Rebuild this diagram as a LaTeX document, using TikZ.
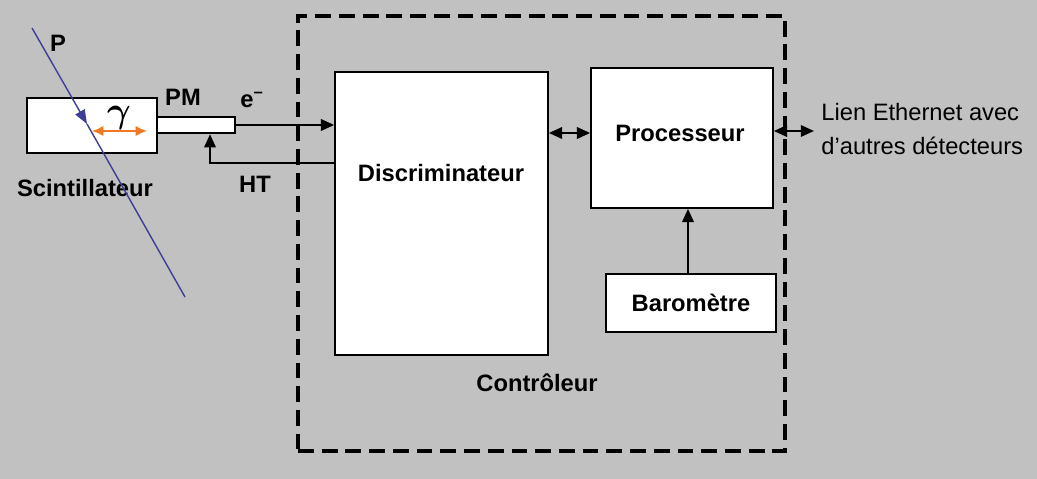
\documentclass[tikz,border=0pt]{standalone}
\usepackage{amsmath}
\usepackage{fontspec}
\setmainfont{Liberation Sans}
\usepackage{xcolor}
\definecolor{panelbg}{RGB}{193,193,193}
\definecolor{trackblue}{RGB}{62,62,150}
\definecolor{photonorange}{RGB}{240,120,35}
\usetikzlibrary{arrows.meta, positioning}

\begin{document}
\begin{tikzpicture}[
  x=0.02cm, y=-0.02cm,
  every node/.style={font=\fontsize{13.5}{16}\selectfont\bfseries, inner sep=0pt},
  box/.style={draw, fill=white, line width=1pt},
  link/.style={line width=1.2pt, -{Triangle[length=7.5pt,width=6.5pt]}},
  twoway/.style={line width=1.2pt, {Triangle[length=7.5pt,width=6.5pt]}-{Triangle[length=7.5pt,width=6.5pt]}},
]
\fill[panelbg] (0,0) rectangle (1037,479);
\useasboundingbox (0,0) rectangle (1037,479);

% controller frame
\node[draw, dash pattern=on 9pt off 4.5pt, line width=2pt,
  minimum width=9.74cm, minimum height=8.7cm] (ctrl) at (541.5,233.5) {};
\node (ctrltext) at (537,383) {Contrôleur};

% detector side
\node[box, minimum width=2.6cm, minimum height=1.1cm] (scint) at (92,125.5) {};
\node[box, line width=1.4pt, minimum width=1.56cm, minimum height=0.32cm] (pm) at (196,125) {};
\node (scinttext) at (85,188) {Scintillateur};
\node (pmtext) at (183,97) {PM};
\node (etext) at (252,100) {e\textsuperscript{–}};
\node (httext) at (255,184) {HT};
\node[font=\fontsize{20}{20}\selectfont] (gamma) at (119,118) {$\boldsymbol{\gamma}$};
\coordinate (gleft) at (92,131);
\coordinate (gright) at (147,131);
\draw[photonorange, line width=1.2pt, {Latex[length=6.5pt,width=6pt]}-{Latex[length=6.5pt,width=6pt]}] (gleft) -- (gright);

% particle track
\coordinate (ptop) at (32,28);
\coordinate (pmid) at (87,124);
\coordinate (pend) at (185,297);
\draw[trackblue, line width=0.8pt, -{Triangle[length=8pt,width=6pt]}] (ptop) -- (pmid);
\draw[trackblue, line width=0.8pt] (pmid) -- (pend);
\node (ptext) at (58,43) {P};

% controller blocks
\node[box, minimum width=4.26cm, minimum height=5.66cm] (disc) at (441.5,213.5) {};
\node (disctext) at (441,173) {Discriminateur};
\node[box, minimum width=3.64cm, minimum height=2.8cm] (proc) at (682,138) {};
\node (proctext) at (680,133) {Processeur};
\node[box, minimum width=3.4cm, minimum height=1.16cm] (baro) at (691,303) {Baromètre};

% connections
\coordinate (htx) at (210,0);
\draw[link] (pm.east) -- (pm.east -| disc.west);
\draw[link] (disc.west |- 0,163) -| (pm.south -| htx);
\draw[twoway] (disc.east |- 0,133) -- (proc.west |- 0,133);
\draw[link] (baro.north -| 688,0) -- (proc.south -| 688,0);
\coordinate (ethend) at (814,131);
\draw[twoway] (proc.east |- ethend) -- (ethend);
\node[anchor=west, align=left, font=\fontsize{13.5}{19.3}\selectfont] (ethtext) at (821,129)
  {Lien Ethernet avec\\d'autres détecteurs};
\end{tikzpicture}
\end{document}
